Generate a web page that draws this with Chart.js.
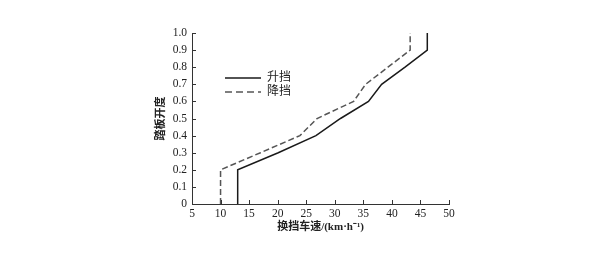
<!DOCTYPE html>
<html>
<head>
<meta charset="utf-8">
<script src="https://cdn.jsdelivr.net/npm/chart.js@4/dist/chart.umd.min.js"></script>
<style>
  html, body { margin: 0; padding: 0; background: #fff; }
  #wrap { width: 609px; height: 254px; }
</style>
</head>
<body>
<div id="wrap"><canvas id="c"></canvas></div>
<script>
// pedal opening (y) vs shift speed (x)
const pedal = [0, 0.2, 0.3, 0.4, 0.5, 0.6, 0.7, 0.8, 0.9, 1.0];
const upSpeed = [13, 13, 20.1, 26.7, 31, 35.9, 38.2, 42.3, 46.2, 46.2];
const downSpeed = [10, 10, 17, 23.9, 26.9, 33.3, 35.4, 39.3, 43.2, 43.2];
const seriesNames = ['升挡', '降挡'];
const xTicks = [5, 10, 15, 20, 25, 30, 35, 40, 45, 50];

const serif = "'Liberation Serif', 'Noto Sans CJK SC', serif";

function toPoints(xs) {
  return xs.map((x, i) => ({x: x, y: pedal[i]}));
}

// small inward tick marks along both axes
const innerTicks = {
  id: 'innerTicks',
  afterDraw(chart) {
    const ctx = chart.ctx;
    const xs = chart.scales.x, ys = chart.scales.y;
    ctx.save();
    ctx.strokeStyle = '#333';
    ctx.lineWidth = 1;
    ctx.beginPath();
    xs.ticks.forEach(t => {
      const px = Math.round(xs.getPixelForValue(t.value)) + 0.5;
      ctx.moveTo(px, xs.top);
      ctx.lineTo(px, xs.top - 4);
    });
    ys.ticks.forEach(t => {
      const py = Math.round(ys.getPixelForValue(t.value)) + 0.5;
      ctx.moveTo(ys.right, py);
      ctx.lineTo(ys.right + 4, py);
    });
    ctx.stroke();
    ctx.restore();
  }
};

// put the legend inside the plot, upper left
const moveLegend = {
  id: 'moveLegend',
  afterLayout(chart) {
    const lg = chart.legend;
    const w = lg.width, h = lg.height;
    lg.left = 223; lg.top = 70;
    lg.right = lg.left + w; lg.bottom = lg.top + h;
  }
};

const legendDash = [[], [7, 4]];

new Chart(document.getElementById('c'), {
  type: 'scatter',
  data: {
    datasets: [{
      label: seriesNames[0],
      data: toPoints(upSpeed),
      showLine: true,
      borderColor: '#1a1a1a',
      borderWidth: 1.5,
      pointRadius: 0
    }, {
      label: seriesNames[1],
      data: toPoints(downSpeed),
      showLine: true,
      borderColor: '#555',
      borderWidth: 1.5,
      borderDash: [6, 3],
      pointRadius: 0
    }]
  },
  options: {
    responsive: true,
    maintainAspectRatio: false,
    animation: false,
    layout: { padding: { left: 150, right: 160, top: 33, bottom: 20 } },
    scales: {
      x: {
        type: 'linear',
        min: 5, max: 50,
        afterBuildTicks(scale) { scale.ticks = xTicks.map(v => ({value: v})); },
        afterFit(scale) { scale.height = 30; },
        grid: { display: false, drawTicks: false },
        border: { display: true, color: '#333', width: 1 },
        ticks: { color: '#222', padding: 3, font: { family: serif, size: 11.5 } },
        title: {
          display: true,
          text: '换挡车速/(km·h⁻¹)',
          color: '#222',
          padding: 0,
          font: { family: serif, size: 11, weight: 'bold' }
        }
      },
      y: {
        min: 0, max: 1,
        afterFit(scale) { scale.width = 42; },
        grid: { display: false, drawTicks: false },
        border: { display: true, color: '#333', width: 1 },
        ticks: {
          stepSize: 0.1,
          color: '#222',
          padding: 5,
          font: { family: serif, size: 11.5 },
          callback: v => (Math.abs(v) < 1e-9 ? '0' : v.toFixed(1))
        },
        title: {
          display: true,
          text: '踏板开度',
          color: '#222',
          padding: { top: 5, bottom: 0 },
          font: { family: serif, size: 11, weight: 'bold' }
        }
      }
    },
    plugins: {
      tooltip: { enabled: false },
      legend: {
        position: 'chartArea',
        align: 'start',
        labels: {
          usePointStyle: true,
          pointStyle: 'line',
          pointStyleWidth: 36,
          padding: 2,
          color: '#222',
          font: { family: serif, size: 12 },
          generateLabels(chart) {
            const items = Chart.defaults.plugins.legend.labels.generateLabels(chart);
            items.forEach((it, i) => {
              const ds = chart.data.datasets[i];
              it.strokeStyle = ds.borderColor;
              it.lineWidth = 1.5;
              it.lineDash = legendDash[i];
              it.pointStyle = 'line';
            });
            return items;
          }
        }
      }
    }
  },
  plugins: [innerTicks, moveLegend]
});
</script>
</body>
</html>
